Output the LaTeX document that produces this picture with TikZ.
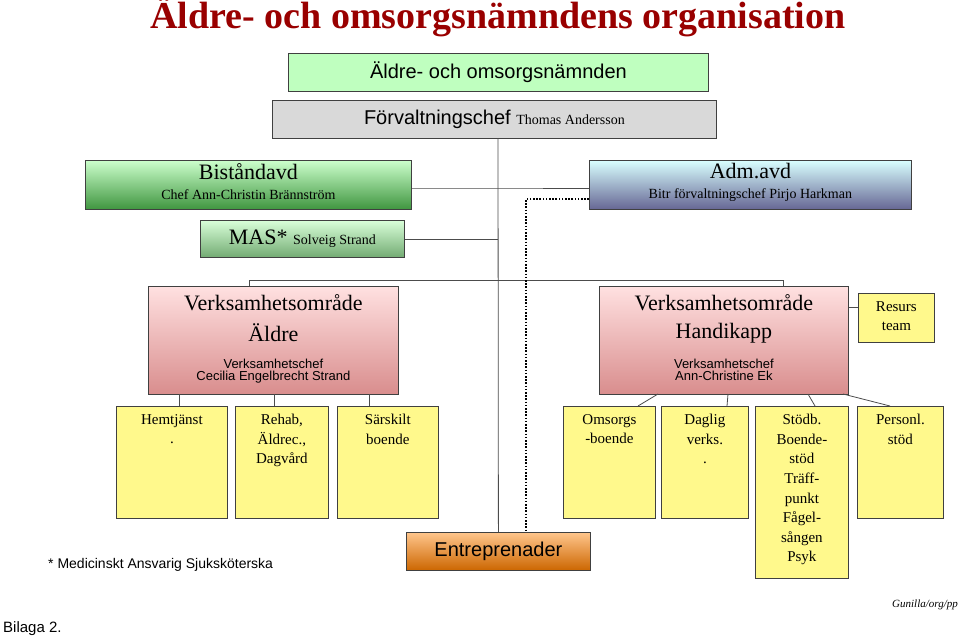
\documentclass[tikz,border=0pt]{standalone}
\usepackage{fontspec}
\setmainfont{Liberation Serif}
\setsansfont{Liberation Sans}
\newcommand{\bigf}{\rmfamily\fontsize{22}{27}\selectfont}
\newcommand{\smf}{\sffamily\fontsize{13}{17}\selectfont}
\newcommand{\subf}{\rmfamily\fontsize{14}{16}\selectfont}
\begin{document}
\begin{tikzpicture}[x=1pt, y=-1pt,
  box/.style={draw=black!75, line width=0.8pt, inner sep=0, anchor=north west},
  ybox/.style={box, fill=yellow!45!white},
  pbox/.style={box, top color=red!12, bottom color=red!35!white!85!black},
  lbl/.style={anchor=north, align=center, inner sep=0},
  ytxt/.style={lbl, font=\fontsize{15}{19.6}\selectfont},
  link/.style={draw=black!70, line width=0.8pt}]
\useasboundingbox (0,0) rectangle (960,642);
% title
\node[anchor=center, text=red!60!black, font=\bfseries\fontsize{38}{40}\selectfont] (title) at (498,17) {Äldre- och omsorgsnämndens organisation};
% top boxes
\node[box, fill=green!25!white, minimum width=420pt, minimum height=38pt] (namnd) at (288,53) {};
\node[anchor=center, font=\sffamily\fontsize{20}{24}\selectfont] (namndt) at (namnd.center) {Äldre- och omsorgsnämnden};
\node[box, fill=black!15, minimum width=444pt, minimum height=38pt] (forv) at (272,100) {};
\node[anchor=center] (forvt) at (forv.center) {\sffamily\fontsize{20}{24}\selectfont Förvaltningschef \rmfamily\fontsize{14}{17}\selectfont Thomas Andersson};
\node[box, top color=green!20, bottom color=green!45!black!75, minimum width=326pt, minimum height=49pt] (bist) at (85,160) {};
\node[lbl] (bistt) at ([yshift=-3pt]bist.north) {\bigf Biståndavd\\[8pt]\subf Chef Ann-Christin Brännström};
\node[box, top color=cyan!15, bottom color=blue!30!black!60, minimum width=322pt, minimum height=49pt] (adm) at (589,160) {};
\node[lbl] (admt) at ([yshift=-3pt]adm.north) {\bigf Adm.avd\\[8pt]\subf Bitr förvaltningschef Pirjo Harkman};
\node[box, top color=green!15, bottom color=green!40!black!55, minimum width=204pt, minimum height=37pt] (mas) at (200,220) {};
\node[anchor=center] (mast) at (mas.center) {\bigf MAS* \subf Solveig Strand};
% verksamhetsomraden
\node[pbox, minimum width=250pt, minimum height=108pt] (aldre) at (148,286) {};
\node[lbl] (aldret) at ([yshift=-8pt]aldre.north) {\bigf Verksamhetsområde\\[12pt]\bigf Äldre\\[15pt]\smf Verksamhetschef\\\smf Cecilia Engelbrecht Strand};
\node[pbox, minimum width=249pt, minimum height=108pt] (handi) at (599,286) {};
\node[lbl] (handit) at ([yshift=-8pt]handi.north) {\bigf Verksamhetsområde\\[12pt]\bigf Handikapp\\[15pt]\smf Verksamhetschef\\\smf Ann-Christine Ek};
\node[ybox, minimum width=76pt, minimum height=49pt] (resurs) at (858,293) {};
\node[lbl, font=\fontsize{15}{19.6}\selectfont] (resurst) at ([yshift=-8pt]resurs.north) {Resurs\\team};
% enheter
\node[ybox, minimum width=111pt, minimum height=112pt] (hem) at (116,406) {};
\node[ytxt] (hemt) at ([yshift=-8pt]hem.north) {Hemtjänst\\.};
\node[ybox, minimum width=93pt, minimum height=112pt] (rehab) at (235,406) {};
\node[ytxt] (rehabt) at ([yshift=-8pt]rehab.north) {Rehab,\\Äldrec.,\\Dagvård};
\node[ybox, minimum width=101pt, minimum height=112pt] (sars) at (337,406) {};
\node[ytxt] (sarst) at ([yshift=-8pt]sars.north) {Särskilt\\boende};
\node[ybox, minimum width=92pt, minimum height=112pt] (oms) at (563,406) {};
\node[ytxt] (omst) at ([yshift=-8pt]oms.north) {Omsorgs\\-boende};
\node[ybox, minimum width=87pt, minimum height=112pt] (dag) at (661,406) {};
\node[ytxt] (dagt) at ([yshift=-8pt]dag.north) {Daglig\\verks.\\.};
\node[ybox, minimum width=93pt, minimum height=172pt] (stod) at (755,406) {};
\node[ytxt] (stodt) at ([yshift=-8pt]stod.north) {Stödb.\\Boende-\\stöd\\Träff-\\punkt\\Fågel-\\sången\\Psyk};
\node[ybox, minimum width=86pt, minimum height=112pt] (pers) at (857,406) {};
\node[ytxt] (perst) at ([yshift=-8pt]pers.north) {Personl.\\stöd};
\node[box, top color=orange!45, bottom color=orange!80!black, minimum width=184pt, minimum height=38pt] (entr) at (406,532) {};
\node[anchor=center, font=\sffamily\fontsize{20}{24}\selectfont] (entrt) at (entr.center) {Entreprenader};
% texter
\node[anchor=west, inner sep=0, font=\sffamily\fontsize{14}{17}\selectfont] (fot) at (48,565) {* Medicinskt Ansvarig Sjuksköterska};
\node[anchor=west, inner sep=0, font=\sffamily\fontsize{15}{18}\selectfont] (bilaga) at (3,629) {Bilaga 2.};
\node[anchor=east, inner sep=0, font=\itshape\fontsize{11}{13}\selectfont] (sign) at (958,605) {Gunilla/org/pp};
% linjer
\coordinate (trunk) at (498,138);
\draw[link] (trunk) -- (entr.north);
\draw[link] (bist.east |- 0,188) -- (trunk |- 0,188) -- (adm.west |- 0,188);
\draw[link] (mas.east) -- (trunk |- mas.east);
\draw[link] (aldre.north -| 249,0) -- (249,280) -- (783,280) -- (handi.north -| 783,0);
\draw[black, line width=1.6pt, dash pattern=on 1.6pt off 1.6pt] (adm.west |- 0,199) -- (526,199) -- (526,532);
\draw[link] (handi.east |- 0,307) -- (resurs.west |- 0,307);
\foreach \k/\x in {hem/179, rehab/274, sars/369}
  \draw[link] (\x,394) -- (\k.north -| \x,0);
\draw[link] (658,394) -- (638,406);
\draw[link] (728,394) -- (727,406);
\draw[link] (808,394) -- (815,406);
\draw[link] (843,394) -- (890,406);
\end{tikzpicture}
\end{document}
